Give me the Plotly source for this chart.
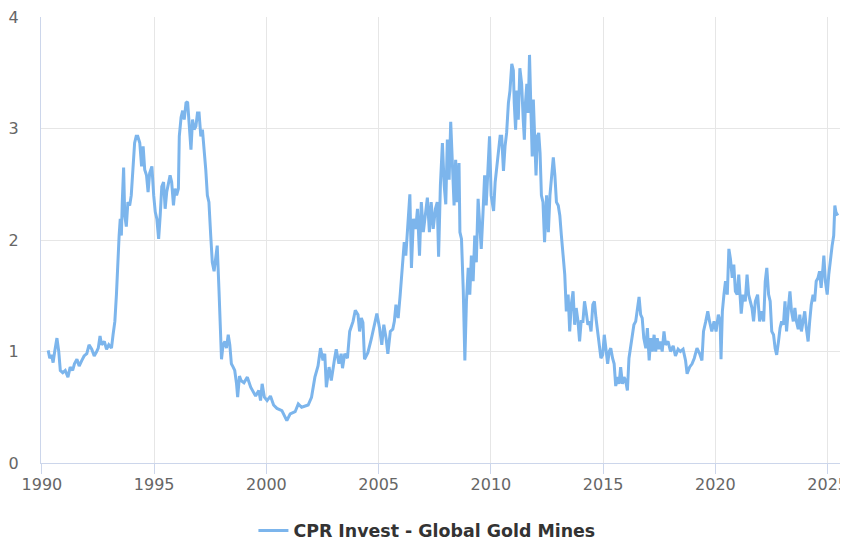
import plotly.graph_objects as go

# ---------------------------------------------------------------------------
# Data (x in decimal years)
# ---------------------------------------------------------------------------

series_name = "CPR Invest - Global Gold Mines"

years = [
    1990.28, 1990.35, 1990.43, 1990.50, 1990.57, 1990.67, 1990.75, 1990.82, 1990.93, 1991.04,
    1991.16, 1991.26, 1991.37, 1991.45, 1991.56, 1991.66, 1991.78, 1991.88, 1992.00, 1992.10,
    1992.22, 1992.33, 1992.44, 1992.51, 1992.59, 1992.66, 1992.78, 1992.88, 1992.98, 1993.10,
    1993.17, 1993.25, 1993.32, 1993.39, 1993.44, 1993.49, 1993.54, 1993.58, 1993.64, 1993.69,
    1993.76, 1993.83, 1993.91, 1993.98, 1994.05, 1994.13, 1994.20, 1994.27,
    1994.36, 1994.44, 1994.51, 1994.58, 1994.66, 1994.73, 1994.80, 1994.90, 1994.98, 1995.05,
    1995.12, 1995.20, 1995.27, 1995.34, 1995.42, 1995.49, 1995.56, 1995.64, 1995.71, 1995.78,
    1995.86, 1995.93, 1996.00, 1996.08, 1996.12, 1996.20, 1996.27, 1996.34, 1996.42, 1996.49,
    1996.56, 1996.64, 1996.71, 1996.78, 1996.86, 1996.93, 1997.00, 1997.08, 1997.15, 1997.22,
    1997.30, 1997.37, 1997.44, 1997.52, 1997.59, 1997.67, 1997.74, 1997.81, 1997.89, 1997.96,
    1998.00, 1998.07, 1998.15, 1998.22, 1998.30, 1998.37, 1998.44, 1998.52, 1998.59, 1998.67,
    1998.72, 1998.80, 1998.87,
    1999.00, 1999.15, 1999.30, 1999.52, 1999.66, 1999.74, 1999.81, 1999.91, 2000.03, 2000.18,
    2000.32, 2000.47, 2000.69, 2000.91, 2001.06, 2001.28, 2001.42, 2001.57, 2001.86, 2002.01,
    2002.16, 2002.30, 2002.41, 2002.52, 2002.60, 2002.67, 2002.79, 2002.89, 2003.04, 2003.11,
    2003.23, 2003.33,
    2003.39, 2003.49, 2003.61, 2003.71, 2003.86, 2003.96, 2004.08, 2004.15, 2004.23, 2004.30,
    2004.37, 2004.52, 2004.67, 2004.79, 2004.92, 2005.04, 2005.14, 2005.23, 2005.33, 2005.41,
    2005.52, 2005.63, 2005.70, 2005.77, 2005.87, 2005.96, 2006.04, 2006.14, 2006.21, 2006.29,
    2006.39, 2006.46, 2006.55, 2006.65, 2006.73, 2006.82, 2006.90, 2006.99, 2007.09, 2007.17,
    2007.26, 2007.34, 2007.43, 2007.53, 2007.61, 2007.67, 2007.75, 2007.84,
    2007.92, 2007.99, 2008.06, 2008.14, 2008.21, 2008.28, 2008.36, 2008.43, 2008.50, 2008.58,
    2008.62, 2008.69, 2008.77, 2008.84, 2008.91, 2008.99, 2009.06, 2009.13, 2009.21, 2009.28,
    2009.35, 2009.43, 2009.50, 2009.57, 2009.65, 2009.72, 2009.79, 2009.87, 2009.94, 2010.01,
    2010.12, 2010.19, 2010.26, 2010.34, 2010.41, 2010.48, 2010.56, 2010.63, 2010.70, 2010.78,
    2010.85, 2010.93, 2011.00, 2011.04, 2011.10, 2011.16, 2011.22, 2011.29, 2011.37, 2011.44,
    2011.49, 2011.54, 2011.60, 2011.66, 2011.72, 2011.78, 2011.84, 2011.89, 2011.95, 2012.01,
    2012.07, 2012.13, 2012.19, 2012.25, 2012.32, 2012.39,
    2012.48, 2012.56, 2012.63, 2012.70, 2012.78, 2012.85, 2012.92, 2013.00, 2013.07, 2013.14,
    2013.22, 2013.29, 2013.36, 2013.44, 2013.51, 2013.58, 2013.66, 2013.73, 2013.80, 2013.88,
    2013.95, 2014.02, 2014.10, 2014.17, 2014.24, 2014.32, 2014.39, 2014.46, 2014.54, 2014.61,
    2014.68, 2014.76, 2014.83, 2014.90, 2014.98, 2015.05, 2015.12, 2015.20, 2015.27, 2015.34,
    2015.42, 2015.49, 2015.56, 2015.64, 2015.71, 2015.78, 2015.86, 2015.93, 2016.00, 2016.08,
    2016.15, 2016.22, 2016.30, 2016.37, 2016.45, 2016.52, 2016.60, 2016.67, 2016.74, 2016.81,
    2016.90, 2016.97, 2017.05, 2017.12, 2017.19, 2017.27, 2017.34, 2017.41, 2017.49, 2017.56,
    2017.63, 2017.71, 2017.78, 2017.89, 2018.00, 2018.12, 2018.22, 2018.34, 2018.44, 2018.56,
    2018.67, 2018.74, 2018.85, 2018.96, 2019.06, 2019.18, 2019.30, 2019.40, 2019.47, 2019.57,
    2019.66, 2019.74, 2019.84, 2019.94, 2020.03, 2020.13, 2020.21, 2020.25, 2020.31, 2020.38,
    2020.45, 2020.53, 2020.60, 2020.67, 2020.75, 2020.82, 2020.89,
    2020.97, 2021.04, 2021.15, 2021.23, 2021.33, 2021.41, 2021.48, 2021.56, 2021.63, 2021.70,
    2021.78, 2021.88, 2021.97, 2022.07, 2022.15, 2022.22, 2022.29, 2022.37, 2022.44, 2022.51,
    2022.59, 2022.66, 2022.73, 2022.81, 2022.88, 2022.95, 2023.03, 2023.10, 2023.17, 2023.25,
    2023.32, 2023.39, 2023.47, 2023.54, 2023.61, 2023.69, 2023.76, 2023.83, 2023.91, 2023.98,
    2024.05, 2024.13, 2024.20, 2024.27, 2024.35, 2024.42, 2024.49, 2024.57, 2024.64, 2024.71,
    2024.79, 2024.83, 2024.90, 2024.98, 2025.05, 2025.12, 2025.20, 2025.27, 2025.32, 2025.37,
    2025.45,
]

nav = [
    1.01, 0.94, 0.97, 0.90, 1.00, 1.12, 1.00, 0.83, 0.81, 0.83,
    0.77, 0.86, 0.83, 0.89, 0.93, 0.87, 0.92, 0.96, 0.98, 1.06,
    1.02, 0.96, 1.00, 1.03, 1.14, 1.06, 1.09, 1.02, 1.06, 1.03,
    1.15, 1.27, 1.51, 1.89, 2.04, 2.19, 2.04, 2.34, 2.65, 2.22,
    2.12, 2.34, 2.31, 2.40, 2.63, 2.87, 2.93, 2.93,
    2.87, 2.66, 2.84, 2.63, 2.58, 2.43, 2.60, 2.66, 2.40, 2.25,
    2.19, 2.01, 2.22, 2.48, 2.52, 2.28, 2.43, 2.52, 2.58, 2.52,
    2.31, 2.46, 2.40, 2.46, 2.93, 3.10, 3.16, 3.08, 3.23, 3.24,
    2.99, 2.81, 3.08, 2.99, 3.02, 3.14, 3.14, 2.93, 2.99, 2.84,
    2.63, 2.40, 2.34, 2.04, 1.80, 1.72, 1.86, 1.95, 1.54, 1.15,
    0.93, 1.06, 1.09, 1.03, 1.15, 1.06, 0.89, 0.86, 0.83, 0.71,
    0.59, 0.78, 0.74,
    0.72, 0.77, 0.68, 0.60, 0.65, 0.56, 0.71, 0.59, 0.56, 0.60,
    0.52, 0.49, 0.47, 0.38, 0.44, 0.46, 0.53, 0.50, 0.52, 0.59,
    0.77, 0.87, 1.03, 0.92, 0.98, 0.68, 0.86, 0.74, 0.94, 1.02,
    0.89, 0.98,
    0.85, 0.98, 0.94, 1.18, 1.27, 1.37, 1.33, 1.18, 1.30, 1.26,
    0.93, 0.99, 1.11, 1.23, 1.34, 1.21, 1.06, 1.24, 1.12, 0.98,
    1.18, 1.20, 1.27, 1.42, 1.30, 1.51, 1.75, 1.98, 1.86, 2.07,
    2.41, 1.75, 2.19, 2.10, 2.28, 1.86, 2.34, 2.07, 2.28, 2.38,
    2.07, 2.34, 2.10, 2.28, 2.34, 1.85, 2.49, 2.87,
    2.49, 2.32, 2.90, 2.54, 3.06, 2.75, 2.31, 2.72, 2.34, 2.69,
    2.07, 2.01, 1.54, 0.92, 1.45, 1.75, 1.51, 1.86, 1.63, 2.04,
    1.80, 2.37, 2.10, 1.92, 2.25, 2.58, 2.31, 2.66, 2.93, 2.40,
    2.26, 2.52, 2.66, 2.81, 2.93, 2.93, 2.62, 2.84, 2.96, 3.23,
    3.34, 3.58, 3.52, 3.23, 2.99, 3.34, 3.08, 3.54, 3.40, 3.08,
    2.90, 3.23, 3.40, 3.14, 3.66, 3.19, 2.75, 3.26, 2.93, 2.58,
    2.93, 2.96, 2.78, 2.40, 2.34, 1.98,
    2.40, 2.07, 2.40, 2.58, 2.74, 2.58, 2.34, 2.31, 2.22, 2.04,
    1.83, 1.69, 1.36, 1.51, 1.18, 1.42, 1.54, 1.24, 1.39, 1.27,
    1.09, 1.27, 1.27, 1.45, 1.36, 1.24, 1.27, 1.18, 1.42, 1.45,
    1.30, 1.15, 1.06, 0.94, 0.97, 1.15, 1.03, 0.89, 1.00, 1.03,
    0.94, 0.89, 0.69, 0.77, 0.71, 0.86, 0.71, 0.77, 0.74, 0.65,
    0.94, 1.03, 1.15, 1.24, 1.27, 1.39, 1.49, 1.33, 1.30, 1.12,
    1.03, 1.21, 0.92, 1.12, 1.00, 1.15, 1.00, 1.12, 1.02, 1.09,
    1.00, 1.18, 1.06, 1.09, 1.00, 1.05, 0.96, 1.02, 1.00, 1.02,
    0.92, 0.80, 0.86, 0.89, 0.94, 1.03, 0.98, 0.92, 1.18, 1.27,
    1.36, 1.27, 1.18, 1.27, 1.18, 1.33, 1.27, 0.93, 1.36, 1.51,
    1.63, 1.51, 1.92, 1.83, 1.66, 1.78, 1.54,
    1.51, 1.69, 1.34, 1.51, 1.45, 1.69, 1.51, 1.45, 1.39, 1.27,
    1.45, 1.51, 1.27, 1.36, 1.27, 1.63, 1.75, 1.51, 1.45, 1.18,
    1.15, 1.03, 0.97, 1.09, 1.21, 1.27, 1.24, 1.45, 1.18, 1.39,
    1.54, 1.36, 1.27, 1.39, 1.27, 1.20, 1.33, 1.18, 1.27, 1.36,
    1.21, 1.09, 1.27, 1.42, 1.51, 1.45, 1.63, 1.66, 1.72, 1.57,
    1.75, 1.86, 1.63, 1.51, 1.69, 1.83, 1.95, 2.04, 2.31, 2.25,
    2.22,
]

x_ticks = [1990, 1995, 2000, 2005, 2010, 2015, 2020, 2025]
y_ticks = [0, 1, 2, 3, 4]

# ---------------------------------------------------------------------------
# Figure
# ---------------------------------------------------------------------------

fig = go.Figure()
fig.add_trace(go.Scatter(
    x=years, y=nav, mode="lines",
    line=dict(color="#7cb5ec", width=3),
    name=series_name, showlegend=True,
))

# page body adds an 8px offset, so the figure is a bit smaller than the window
fig.update_layout(
    width=840, height=534,
    paper_bgcolor="white", plot_bgcolor="white",
    margin=dict(l=32, r=0, t=5, b=79),
    font=dict(family="DejaVu Sans", color="#666666", size=16),
    xaxis=dict(
        range=[1989.96, 2025.55],
        tickvals=x_ticks, ticktext=[str(t) for t in x_ticks],
        showgrid=True, gridcolor="#e6e6e6", gridwidth=1.4,
        showline=True, linecolor="#ccd6eb", linewidth=1.4,
        ticks="outside", ticklen=10, tickcolor="#ccd6eb", tickwidth=1.4,
        zeroline=False, ticklabeloverflow="allow", ticklabelstandoff=-3,
        tickfont=dict(size=16, color="#666666"),
    ),
    yaxis=dict(
        range=[0, 4],
        tickvals=y_ticks, ticktext=[str(t) for t in y_ticks],
        showgrid=True, gridcolor="#e6e6e6", gridwidth=1.4,
        showline=True, linecolor="#ccd6eb", linewidth=1.4,
        zeroline=False, ticks="", ticklabelstandoff=18,
        ticklabeloverflow="allow",
        tickfont=dict(size=16, color="#666666"),
    ),
    legend=dict(
        orientation="h", xref="paper", x=0.483, xanchor="center",
        yref="container", y=0.021, yanchor="middle",
        font=dict(size=17.4, color="#333333", family="DejaVu Sans", weight="bold"),
        bgcolor="rgba(0,0,0,0)",
    ),
    showlegend=True,
)

fig.write_html("out.html")
